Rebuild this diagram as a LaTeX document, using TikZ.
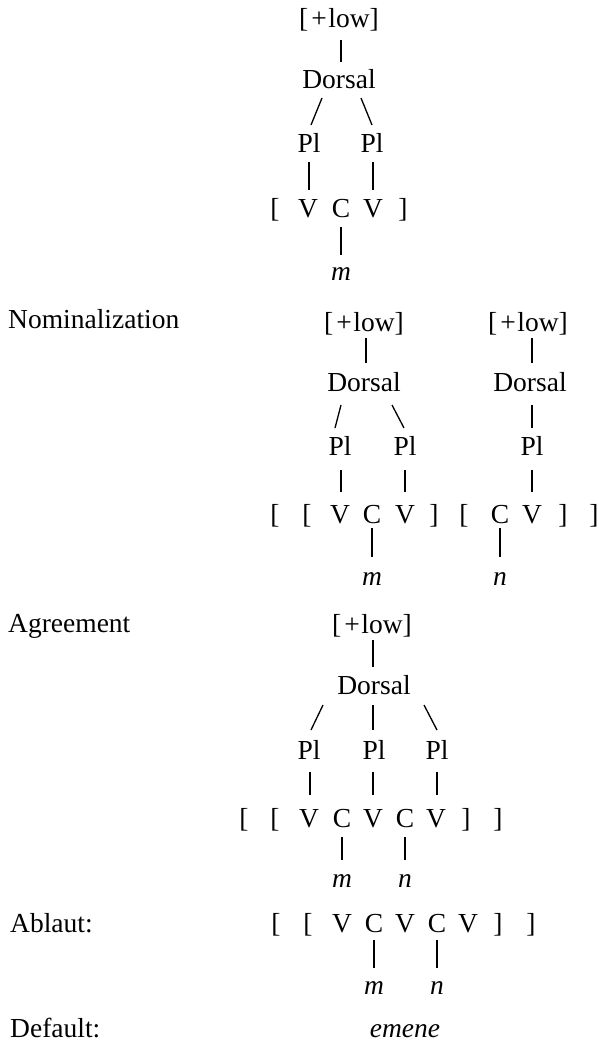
\documentclass[tikz,border=0pt]{standalone}
\usepackage{fontspec}
\setmainfont{Liberation Serif}
\usetikzlibrary{calc}
\tikzset{
  w/.style={anchor=base, inner sep=0pt, font=\fontsize{27.5}{32}\selectfont},
  it/.style={w, font=\fontsize{27.5}{32}\selectfont\itshape},
  lab/.style={w, anchor=base west},
  link/.style={line width=1.3pt},
}
% connector between two named nodes, offsets taken from their baselines
\newcommand{\cnx}[6]{\draw[link] ($(#1.base)+(#2,#3)$) -- ($(#4.base)+(#5,#6)$);}
\newcommand{\plow}{[\kern3pt+\kern1.5pt low]}
\begin{document}
\begin{tikzpicture}[x=1pt,y=-1pt]
\fill[white] (0,0) rectangle (598,1042);
\useasboundingbox (0,0) rectangle (598,1042);

% ---------- underlying form ----------
\node[w] (t0) at (339,27) {\plow};
\node[w] (t1) at (339,88) {Dorsal};
\node[w] (t2a) at (309,152) {Pl};
\node[w] (t2b) at (372,152) {Pl};
\node[w] (tlb) at (275,217) {[};
\node[w] (tv1) at (308,217) {V};
\node[w] (tc) at (341,217) {C};
\node[w] (tv2) at (373,217) {V};
\node[w] (trb) at (403,217) {]};
\node[it] (tm) at (341,280) {m};
\cnx{t0}{2}{13}{t1}{2}{-26}
\cnx{t1}{-17}{10}{t2a}{2}{-27}
\cnx{t1}{22}{10}{t2b}{0}{-27}
\cnx{t2a}{0}{10}{tv1}{1}{-27}
\cnx{t2b}{1}{10}{tv2}{0}{-27}
\cnx{tc}{0}{10}{tm}{0}{-25}

% ---------- Nominalization ----------
\node[lab] (nlab) at (8,328) {Nominalization};
\node[w] (n0) at (364,331) {\plow};
\node[w] (n1) at (364,391) {Dorsal};
\node[w] (n2a) at (340,455) {Pl};
\node[w] (n2b) at (405,455) {Pl};
\node[w] (k0) at (528,331) {\plow};
\node[w] (k1) at (530,391) {Dorsal};
\node[w] (k2) at (532,455) {Pl};
\node[w] (nlb1) at (275,523) {[};
\node[w] (nlb2) at (307,523) {[};
\node[w] (nv1) at (340,523) {V};
\node[w] (nc) at (372,523) {C};
\node[w] (nv2) at (405,523) {V};
\node[w] (nrb1) at (434,523) {]};
\node[w] (klb) at (464,523) {[};
\node[w] (kc) at (500,523) {C};
\node[w] (kv) at (532,523) {V};
\node[w] (krb) at (563,523) {]};
\node[w] (nrb2) at (594,523) {]};
\node[it] (nm) at (372,585) {m};
\node[it] (kn) at (500,585) {n};
\cnx{n0}{2}{7}{n1}{2}{-28}
\cnx{k0}{4}{7}{k1}{2}{-28}
\cnx{n1}{-23}{14}{n2a}{-5}{-27}
\cnx{n1}{28}{14}{n2b}{-1}{-27}
\cnx{k1}{2}{14}{k2}{0}{-27}
\cnx{n2a}{1}{15}{nv1}{1}{-31}
\cnx{n2b}{0}{15}{nv2}{0}{-31}
\cnx{k2}{0}{15}{kv}{0}{-31}
\cnx{nc}{0}{5}{nm}{0}{-28}
\cnx{kc}{0}{5}{kn}{0}{-28}

% ---------- Agreement ----------
\node[lab] (alab) at (8,632) {Agreement};
\node[w] (a0) at (372,633) {\plow};
\node[w] (a1) at (374,694) {Dorsal};
\node[w] (a2a) at (309,759) {Pl};
\node[w] (a2b) at (374,759) {Pl};
\node[w] (a2c) at (437,759) {Pl};
\node[w] (alb1) at (244,827) {[};
\node[w] (alb2) at (275,827) {[};
\node[w] (av1) at (309,827) {V};
\node[w] (ac1) at (342,827) {C};
\node[w] (av2) at (373,827) {V};
\node[w] (ac2) at (405,827) {C};
\node[w] (av3) at (436,827) {V};
\node[w] (arb1) at (466,827) {]};
\node[w] (arb2) at (498,827) {]};
\node[it] (am) at (342,887) {m};
\node[it] (an) at (405,887) {n};
\cnx{a0}{1}{7}{a1}{-1}{-27}
\cnx{a1}{-51}{11}{a2a}{2}{-29}
\cnx{a1}{-1}{11}{a2b}{-1}{-29}
\cnx{a1}{50}{11}{a2c}{0}{-29}
\cnx{a2a}{1}{13}{av1}{1}{-32}
\cnx{a2b}{-1}{13}{av2}{0}{-32}
\cnx{a2c}{0}{13}{av3}{1}{-32}
\cnx{ac1}{0}{10}{am}{0}{-27}
\cnx{ac2}{0}{10}{an}{0}{-27}

% ---------- Ablaut ----------
\node[lab] (blab) at (10,932) {Ablaut:};
\node[w] (blb1) at (276,932) {[};
\node[w] (blb2) at (308,932) {[};
\node[w] (bv1) at (342,932) {V};
\node[w] (bc1) at (374,932) {C};
\node[w] (bv2) at (405,932) {V};
\node[w] (bc2) at (437,932) {C};
\node[w] (bv3) at (468,932) {V};
\node[w] (brb1) at (498,932) {]};
\node[w] (brb2) at (531,932) {]};
\node[it] (bm) at (374,994) {m};
\node[it] (bn) at (437,994) {n};
\cnx{bc1}{0}{8}{bm}{0}{-26}
\cnx{bc2}{0}{8}{bn}{0}{-26}

% ---------- Default ----------
\node[lab] (dlab) at (10,1037) {Default:};
\node[it] (dout) at (405,1037) {emene};
\end{tikzpicture}
\end{document}
